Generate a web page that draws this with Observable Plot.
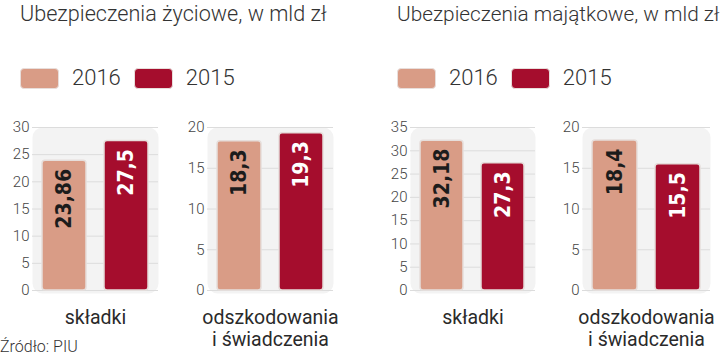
<!DOCTYPE html>
<html><head><meta charset="utf-8">
<script src="https://cdn.jsdelivr.net/npm/d3@7"></script>
<script src="https://cdn.jsdelivr.net/npm/@observablehq/plot@0.6"></script>
<style>
body{margin:0;background:#fff;}
#chart{position:relative;width:720px;height:358px;overflow:hidden;font-family:Roboto,sans-serif;}
.title{position:absolute;top:0;font-size:21.6px;font-weight:300;color:#333;white-space:nowrap;line-height:28px;}
.title.t1{font-size:20.8px;}
.legend{position:absolute;top:66px;display:flex;align-items:center;font-size:22px;font-weight:300;color:#333;line-height:24px;}
.sw{width:37px;height:19px;border-radius:4px;border:1.5px solid #e8dedb;}
.lt{margin:0 13px 0 13px;}
.panel{position:absolute;top:115px;}
.panel svg{overflow:visible;background:transparent;}
.source{position:absolute;left:0;top:338px;font-size:16px;font-weight:300;color:#333;line-height:18px;}
</style></head>
<body><div id="chart"></div>
<script>
const years = ["2016", "2015"];
const yearColors = ["#d99c86", "#a50d2d"];
const titles = ["Ubezpieczenia życiowe, w mld zł", "Ubezpieczenia majątkowe, w mld zł"];
const categories = ["składki", "odszkodowania\ni świadczenia", "składki", "odszkodowania\ni świadczenia"];
const lifePremiums = [23.86, 27.5];
const lifeClaims = [18.3, 19.3];
const propertyPremiums = [32.18, 27.3];
const propertyClaims = [18.4, 15.5];
const yMaxes = [30, 20, 35, 20];
const yTickStep = 5;
const source = "Źródło: PIU";

const chart = document.getElementById("chart");
const fmt = v => String(v).replace(".", ",");

// titles + legends
const titleLeft = [20, 397];
titles.forEach((t, i) => {
  const d = document.createElement("div");
  d.className = "title t" + i; d.style.left = titleLeft[i] + "px"; d.textContent = t;
  chart.appendChild(d);
  const lg = document.createElement("div");
  lg.className = "legend"; lg.style.left = (titleLeft[i]) + "px";
  years.forEach((y, j) => {
    const sw = document.createElement("div"); sw.className = "sw"; sw.style.background = yearColors[j];
    const lt = document.createElement("span"); lt.className = "lt"; lt.textContent = y;
    lg.appendChild(sw); lg.appendChild(lt);
  });
  chart.appendChild(lg);
});

const series = [lifePremiums, lifeClaims, propertyPremiums, propertyClaims];
const bgLeft = [32, 207, 410, 582];
const bgWidth = [126, 126, 125, 128];
const mL = 30, mR = 10;

series.forEach((vals, i) => {
  const data = years.map((y, j) => ({year: y, value: vals[j]}));
  const ticks = d3.range(0, yMaxes[i] + 1, yTickStep);
  const p = Plot.plot({
    width: mL + bgWidth[i] + mR,
    height: 243,
    marginLeft: mL, marginRight: mR, marginTop: 12, marginBottom: 65,
    style: {background: "transparent", overflow: "visible", fontFamily: "Roboto, sans-serif"},
    x: {domain: years, paddingInner: 0.29, paddingOuter: 0.16, axis: null},
    y: {domain: [0, yMaxes[i]], insetBottom: 3},
    color: {domain: years, range: yearColors},
    marks: [
      Plot.frame({fill: "#f3f3f3", stroke: null, rx: 10}),
      Plot.gridY(ticks, {stroke: "#dcdcdc", strokeOpacity: 1}),
      Plot.axisY({ticks, tickSize: 0, tickPadding: 3, fontSize: 15, fontWeight: 300, color: "#444", label: null}),
      Plot.barY(data, {x: "year", y: "value", fill: "year", stroke: "#e6dedb", strokeWidth: 1.5, rx: 3}),
      Plot.text(data, {x: "year", y: "value", text: d => fmt(d.value), rotate: -90, textAnchor: "end", lineAnchor: "middle",
        dy: 8, fontSize: 21, fontWeight: "bold", fontFamily: "DejaVu Sans Condensed",
        fill: d => d.year === years[0] ? "#1c1c1c" : "#ffffff"}),
      Plot.text([categories[i]], {frameAnchor: "bottom", lineAnchor: "top", dy: 15, fontSize: 19.5, fill: "#2a2a2a", lineHeight: 1.13})
    ]
  });
  const wrap = document.createElement("div");
  wrap.className = "panel"; wrap.style.left = (bgLeft[i] - mL) + "px";
  wrap.appendChild(p);
  chart.appendChild(wrap);
});

const s = document.createElement("div"); s.className = "source"; s.textContent = source; chart.appendChild(s);
</script>
</body></html>
